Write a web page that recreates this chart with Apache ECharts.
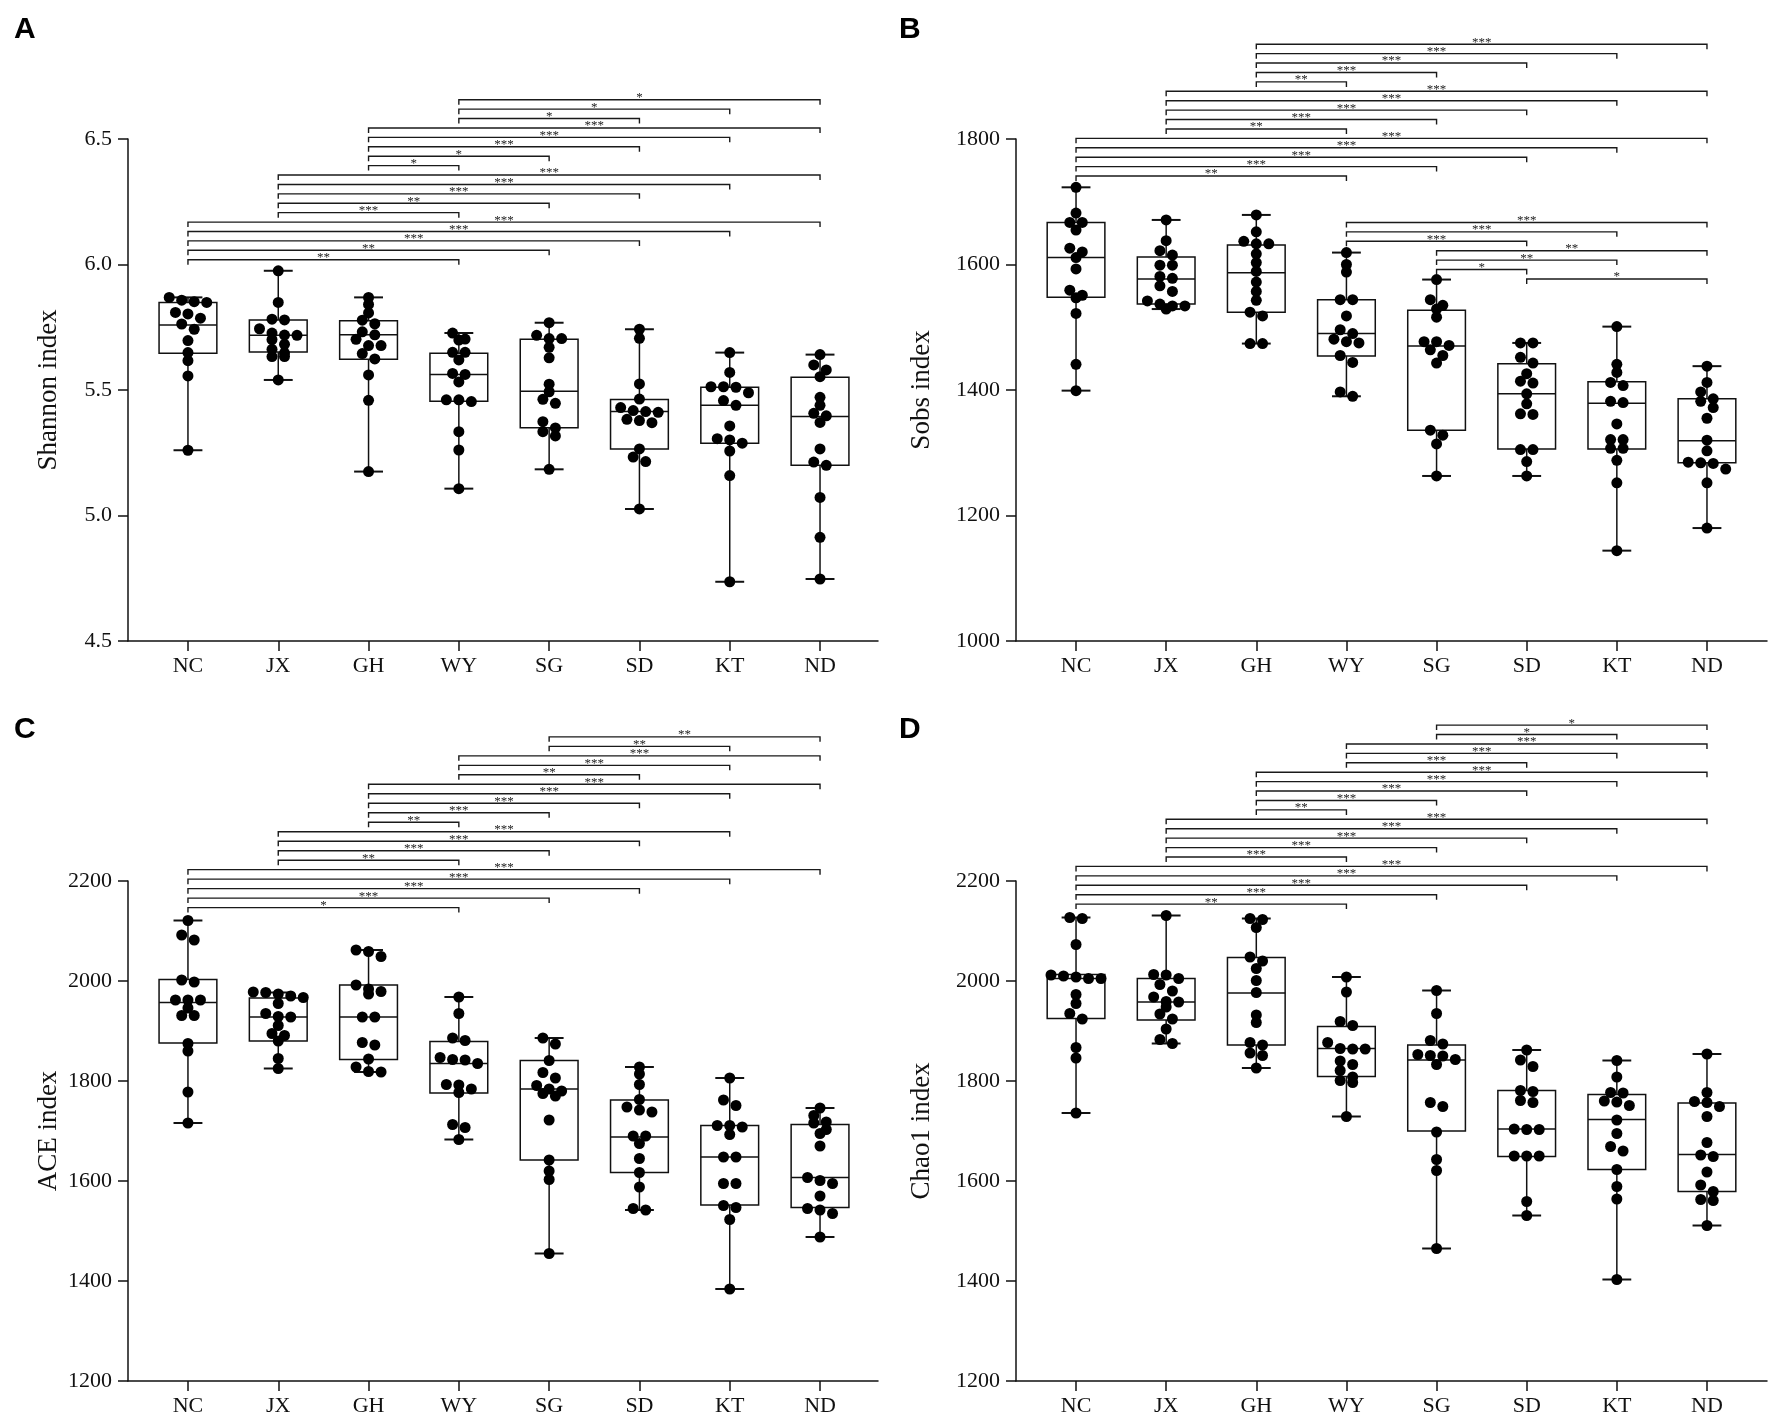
<!DOCTYPE html>
<html>
<head>
<meta charset="utf-8">
<script src="https://cdn.jsdelivr.net/npm/echarts@6.0.0/dist/echarts.min.js"></script>
<style>
html, body { margin: 0; padding: 0; background: #fff; }
#container { width: 1775px; height: 1417px; }
</style>
</head>
<body>
<div id="container"></div>
<script>
var cats = ['NC', 'JX', 'GH', 'WY', 'SG', 'SD', 'KT', 'ND'];
var catTicks = [0, 1, 2, 3, 4, 5, 6, 7];

// box stats per group: [min, Q1, median, Q3, max]
var shannonBox = [
    [5.260, 5.646, 5.759, 5.849, 5.869], [5.540, 5.651, 5.718, 5.779, 5.975],
    [5.175, 5.623, 5.720, 5.776, 5.869], [5.107, 5.455, 5.562, 5.646, 5.727],
    [5.184, 5.350, 5.495, 5.702, 5.768], [5.026, 5.265, 5.414, 5.462, 5.742],
    [4.736, 5.288, 5.439, 5.511, 5.649], [4.747, 5.200, 5.394, 5.551, 5.641]
];
var shannonPts = [
    [5.869, 5.858, 5.852, 5.849, 5.809, 5.803, 5.786, 5.763, 5.742, 5.697, 5.649, 5.617, 5.556, 5.260],
    [5.975, 5.849, 5.782, 5.779, 5.744, 5.727, 5.719, 5.718, 5.701, 5.682, 5.662, 5.647, 5.633, 5.633, 5.540],
    [5.869, 5.841, 5.807, 5.778, 5.764, 5.732, 5.720, 5.702, 5.677, 5.677, 5.645, 5.624, 5.560, 5.459, 5.175],
    [5.727, 5.703, 5.699, 5.650, 5.650, 5.620, 5.566, 5.562, 5.532, 5.461, 5.461, 5.454, 5.334, 5.261, 5.107],
    [5.768, 5.718, 5.705, 5.705, 5.670, 5.628, 5.523, 5.493, 5.463, 5.447, 5.374, 5.349, 5.334, 5.317, 5.184],
    [5.742, 5.706, 5.524, 5.464, 5.430, 5.418, 5.414, 5.411, 5.383, 5.378, 5.370, 5.265, 5.233, 5.215, 5.026],
    [5.649, 5.570, 5.513, 5.513, 5.511, 5.489, 5.458, 5.439, 5.357, 5.306, 5.301, 5.288, 5.257, 5.159, 4.736],
    [5.641, 5.600, 5.580, 5.553, 5.471, 5.439, 5.407, 5.397, 5.371, 5.265, 5.213, 5.200, 5.072, 4.913, 4.747]
];

var sobsBox = [
    [1399, 1548, 1611, 1667, 1723], [1529, 1537, 1577, 1612, 1671],
    [1474, 1524, 1587, 1631, 1679], [1390, 1454, 1490, 1544, 1619],
    [1263, 1336, 1470, 1527, 1576], [1263, 1306, 1394, 1442, 1475],
    [1144, 1306, 1379, 1413, 1501], [1180, 1284, 1319, 1386, 1438]
];
var sobsPts = [
    [1723, 1682, 1667, 1667, 1655, 1626, 1620, 1611, 1593, 1559, 1551, 1547, 1522, 1441, 1399],
    [1671, 1638, 1622, 1615, 1599, 1599, 1581, 1578, 1566, 1557, 1542, 1537, 1534, 1534, 1529],
    [1679, 1652, 1637, 1633, 1633, 1617, 1603, 1589, 1572, 1557, 1543, 1524, 1518, 1474, 1474],
    [1619, 1600, 1588, 1544, 1544, 1518, 1496, 1490, 1481, 1477, 1475, 1455, 1444, 1397, 1390],
    [1576, 1544, 1535, 1529, 1516, 1477, 1477, 1471, 1464, 1455, 1443, 1336, 1328, 1314, 1263],
    [1475, 1475, 1452, 1443, 1426, 1414, 1411, 1394, 1378, 1362, 1361, 1305, 1305, 1286, 1263],
    [1501, 1441, 1428, 1412, 1407, 1382, 1380, 1346, 1321, 1321, 1307, 1307, 1288, 1252, 1144],
    [1438, 1412, 1397, 1386, 1382, 1372, 1355, 1320, 1303, 1285, 1284, 1283, 1274, 1252, 1180]
];

var aceBox = [
    [1716, 1876, 1957, 2003, 2121], [1825, 1880, 1928, 1966, 1977],
    [1818, 1843, 1928, 1992, 2062], [1683, 1776, 1835, 1879, 1968],
    [1455, 1642, 1784, 1841, 1886], [1542, 1617, 1688, 1762, 1828],
    [1384, 1552, 1648, 1711, 1806], [1488, 1547, 1607, 1713, 1746]
];
var acePts = [
    [2121, 2092, 2082, 2002, 1998, 1962, 1962, 1962, 1946, 1931, 1931, 1875, 1860, 1778, 1716],
    [1978, 1977, 1974, 1970, 1967, 1955, 1935, 1929, 1928, 1911, 1895, 1891, 1880, 1845, 1825],
    [2062, 2059, 2049, 1992, 1984, 1979, 1974, 1928, 1928, 1877, 1872, 1844, 1828, 1819, 1818],
    [1968, 1935, 1886, 1881, 1847, 1843, 1842, 1835, 1793, 1792, 1784, 1777, 1713, 1707, 1683],
    [1886, 1874, 1841, 1817, 1806, 1791, 1784, 1780, 1775, 1770, 1722, 1642, 1620, 1603, 1455],
    [1828, 1814, 1793, 1763, 1748, 1742, 1738, 1690, 1690, 1675, 1645, 1617, 1588, 1545, 1542],
    [1806, 1762, 1751, 1711, 1711, 1708, 1693, 1648, 1648, 1595, 1595, 1551, 1547, 1523, 1384],
    [1746, 1731, 1718, 1716, 1703, 1695, 1670, 1607, 1601, 1595, 1570, 1545, 1542, 1535, 1488]
];

var chaoBox = [
    [1736, 1925, 2005, 2013, 2127], [1875, 1922, 1958, 2005, 2131],
    [1826, 1872, 1976, 2047, 2125], [1729, 1809, 1865, 1909, 2008],
    [1465, 1700, 1842, 1872, 1981], [1531, 1649, 1704, 1781, 1862],
    [1403, 1623, 1723, 1773, 1841], [1511, 1579, 1653, 1756, 1854]
];
var chaoPts = [
    [2127, 2125, 2073, 2012, 2010, 2008, 2005, 2005, 1973, 1955, 1935, 1924, 1867, 1846, 1736],
    [2131, 2013, 2012, 2005, 1993, 1980, 1968, 1959, 1958, 1948, 1934, 1924, 1904, 1883, 1875],
    [2125, 2123, 2107, 2048, 2040, 2025, 2001, 1977, 1932, 1917, 1877, 1872, 1856, 1851, 1826],
    [2008, 1978, 1919, 1911, 1877, 1865, 1864, 1864, 1840, 1833, 1821, 1808, 1801, 1797, 1729],
    [1981, 1935, 1881, 1874, 1853, 1851, 1850, 1843, 1833, 1757, 1749, 1698, 1643, 1621, 1465],
    [1862, 1842, 1829, 1781, 1779, 1761, 1757, 1704, 1703, 1703, 1650, 1650, 1650, 1559, 1531],
    [1841, 1808, 1777, 1776, 1760, 1758, 1751, 1722, 1695, 1669, 1660, 1623, 1589, 1564, 1403],
    [1854, 1777, 1759, 1757, 1749, 1729, 1677, 1652, 1649, 1618, 1592, 1579, 1563, 1561, 1511]
];

// significance brackets, bottom to top: [group a, group b] and stars
var shannonPairs = [[0,3],[0,4],[0,5],[0,6],[0,7],[1,3],[1,4],[1,5],[1,6],[1,7],[2,3],[2,4],[2,5],[2,6],[2,7],[3,5],[3,6],[3,7]];
var shannonStars = ['**','**','***','***','***','***','**','***','***','***','*','*','***','***','***','*','*','*'];

var sobsLowPairs = [[5,7],[4,5],[4,6],[4,7],[3,5],[3,6],[3,7]];
var sobsLowStars = ['*','*','**','**','***','***','***'];
var sobsPairs = [[0,3],[0,4],[0,5],[0,6],[0,7],[1,3],[1,4],[1,5],[1,6],[1,7],[2,3],[2,4],[2,5],[2,6],[2,7]];
var sobsStars = ['**','***','***','***','***','**','***','***','***','***','**','***','***','***','***'];

var acePairs = [[0,3],[0,4],[0,5],[0,6],[0,7],[1,3],[1,4],[1,5],[1,6],[2,3],[2,4],[2,5],[2,6],[2,7],[3,5],[3,6],[3,7],[4,6],[4,7]];
var aceStars = ['*','***','***','***','***','**','***','***','***','**','***','***','***','***','**','***','***','**','**'];

var chaoPairs = [[0,3],[0,4],[0,5],[0,6],[0,7],[1,3],[1,4],[1,5],[1,6],[1,7],[2,3],[2,4],[2,5],[2,6],[2,7],[3,5],[3,6],[3,7],[4,6],[4,7]];
var chaoStars = ['**','***','***','***','***','***','***','***','***','***','**','***','***','***','***','***','***','***','*','*'];

var serif = '"Liberation Serif", "Times New Roman", serif';
var ink = '#111';

var panels = [
    { name: 'Shannon index', letter: 'A', box: shannonBox, pts: shannonPts,
      stacks: [{ pairs: shannonPairs, stars: shannonStars, base: 6.019, step: 0.0375 }],
      left: 128, top: 139, width: 750, height: 502, xmin: -0.664, xmax: 7.642,
      ymin: 4.5, ymax: 6.5, interval: 0.5, dec: 1, gap: 66, lx: 14, ly: 15 },
    { name: 'Sobs index', letter: 'B', box: sobsBox, pts: sobsPts,
      stacks: [{ pairs: sobsLowPairs, stars: sobsLowStars, base: 1577, step: 15 },
               { pairs: sobsPairs, stars: sobsStars, base: 1741, step: 15 }],
      left: 1016, top: 139, width: 751, height: 502, xmin: -0.666, xmax: 7.666,
      ymin: 1000, ymax: 1800, interval: 200, dec: 0, gap: 81, lx: 899, ly: 15 },
    { name: 'ACE index', letter: 'C', box: aceBox, pts: acePts,
      stacks: [{ pairs: acePairs, stars: aceStars, base: 2146.8, step: 18.97 }],
      left: 128, top: 881, width: 750, height: 501, xmin: -0.664, xmax: 7.642,
      ymin: 1200, ymax: 2200, interval: 200, dec: 0, gap: 66, lx: 14, ly: 715 },
    { name: 'Chao1 index', letter: 'D', box: chaoBox, pts: chaoPts,
      stacks: [{ pairs: chaoPairs, stars: chaoStars, base: 2153.8, step: 18.84 }],
      left: 1016, top: 881, width: 751, height: 501, xmin: -0.666, xmax: 7.666,
      ymin: 1200, ymax: 2200, interval: 200, dec: 0, gap: 81, lx: 899, ly: 715 }
];

// spread points that sit at about the same height side by side
function swarm(vals, pxPerY, pxPerX) {
    var order = vals.map(function (v, i) { return i; });
    order.sort(function (a, b) { return vals[b] - vals[a]; });
    var off = vals.map(function () { return 0; });
    var k = 0;
    while (k < order.length) {
        var j = k;
        while (j + 1 < order.length && (vals[order[k]] - vals[order[j + 1]]) * pxPerY < 7) j++;
        var n = j - k + 1;
        for (var m = 0; m < n; m++) {
            off[order[k + m]] = (m - (n - 1) / 2) * 12.5 / pxPerX;
        }
        k = j + 1;
    }
    return off;
}

function boxItem(params, api) {
    var x = api.value(0);
    var pMin = api.coord([x, api.value(1)]);
    var pQ1 = api.coord([x, api.value(2)]);
    var pMed = api.coord([x, api.value(3)]);
    var pQ3 = api.coord([x, api.value(4)]);
    var pMax = api.coord([x, api.value(5)]);
    var band = api.size([1, 0])[0];
    var hw = band * 0.32, cw = band * 0.16;
    var ls = { stroke: ink, lineWidth: 1.5 };
    return {
        type: 'group',
        children: [
            { type: 'line', shape: { x1: pMin[0], y1: pMin[1], x2: pQ1[0], y2: pQ1[1] }, style: ls },
            { type: 'line', shape: { x1: pQ3[0], y1: pQ3[1], x2: pMax[0], y2: pMax[1] }, style: ls },
            { type: 'line', shape: { x1: pMin[0] - cw, y1: pMin[1], x2: pMin[0] + cw, y2: pMin[1] }, style: { stroke: ink, lineWidth: 2 } },
            { type: 'line', shape: { x1: pMax[0] - cw, y1: pMax[1], x2: pMax[0] + cw, y2: pMax[1] }, style: { stroke: ink, lineWidth: 2 } },
            { type: 'rect', shape: { x: pQ3[0] - hw, y: pQ3[1], width: hw * 2, height: pQ1[1] - pQ3[1] },
              style: { fill: '#fff', stroke: ink, lineWidth: 1.5 } },
            { type: 'line', shape: { x1: pMed[0] - hw, y1: pMed[1], x2: pMed[0] + hw, y2: pMed[1] }, style: ls }
        ]
    };
}

function bracketRenderer(stars) {
    return function (params, api) {
        var p1 = api.coord([api.value(0), api.value(2)]);
        var p2 = api.coord([api.value(1), api.value(2)]);
        return {
            type: 'group',
            children: [
                { type: 'polyline',
                  shape: { points: [[p1[0], p1[1] + 5], [p1[0], p1[1]], [p2[0], p2[1]], [p2[0], p2[1] + 5]] },
                  style: { stroke: '#1a1a1a', lineWidth: 1.4, fill: 'none' } },
                { type: 'text',
                  style: { text: stars[params.dataIndex], x: (p1[0] + p2[0]) / 2, y: p1[1] - 2,
                           textAlign: 'center', textVerticalAlign: 'middle',
                           font: '13px "Liberation Serif", serif', fill: '#222' } }
            ]
        };
    };
}

var option = {
    backgroundColor: '#fff',
    animation: false,
    title: [],
    grid: [],
    xAxis: [],
    yAxis: [],
    series: []
};

panels.forEach(function (p, k) {
    option.title.push({
        text: p.letter, left: p.lx, top: p.ly, padding: 0,
        textStyle: { fontFamily: '"Liberation Sans", Arial, sans-serif', fontWeight: 'bold', fontSize: 30, color: '#000' }
    });
    option.grid.push({ left: p.left, top: p.top, width: p.width, height: p.height });
    option.xAxis.push({
        gridIndex: k, type: 'value', min: p.xmin, max: p.xmax,
        splitLine: { show: false },
        axisLine: { show: true, onZero: false, lineStyle: { color: ink, width: 1.5 } },
        axisTick: { show: true, length: 10, customValues: catTicks, lineStyle: { color: ink, width: 1.5 } },
        axisLabel: {
            customValues: catTicks, margin: 14, fontFamily: serif, fontSize: 22, color: ink,
            formatter: function (v) { return cats[Math.round(v)]; }
        }
    });
    option.yAxis.push({
        gridIndex: k, type: 'value', min: p.ymin, max: p.ymax, interval: p.interval,
        name: p.name, nameLocation: 'middle', nameGap: p.gap,
        nameTextStyle: { fontFamily: serif, fontSize: 27, color: ink },
        splitLine: { show: false },
        axisLine: { show: true, onZero: false, lineStyle: { color: ink, width: 1.5 } },
        axisTick: { show: true, length: 10, lineStyle: { color: ink, width: 1.5 } },
        axisLabel: {
            margin: 16, fontFamily: serif, fontSize: 22, color: ink,
            formatter: function (v) { return v.toFixed(p.dec); }
        }
    });

    option.series.push({
        type: 'custom', xAxisIndex: k, yAxisIndex: k, z: 2, silent: true,
        data: p.box.map(function (b, i) { return [i].concat(b); }),
        encode: { x: 0, y: [1, 2, 3, 4, 5] },
        renderItem: boxItem
    });

    var pxPerY = p.height / (p.ymax - p.ymin);
    var pxPerX = p.width / (p.xmax - p.xmin);
    var dots = [];
    p.pts.forEach(function (vals, i) {
        var off = swarm(vals, pxPerY, pxPerX);
        vals.forEach(function (v, j) { dots.push([i + off[j], v]); });
    });
    option.series.push({
        type: 'scatter', xAxisIndex: k, yAxisIndex: k, z: 4, silent: true,
        symbol: 'circle', symbolSize: 11,
        itemStyle: { color: '#000', opacity: 1 },
        data: dots
    });

    p.stacks.forEach(function (s) {
        option.series.push({
            type: 'custom', xAxisIndex: k, yAxisIndex: k, z: 3, silent: true, clip: false,
            data: s.pairs.map(function (pr, n) { return [pr[0], pr[1], s.base + n * s.step]; }),
            encode: { x: [0, 1], y: 2 },
            renderItem: bracketRenderer(s.stars)
        });
    });
});

var myChart = echarts.init(document.getElementById('container'));
myChart.setOption(option);
</script>
</body>
</html>
